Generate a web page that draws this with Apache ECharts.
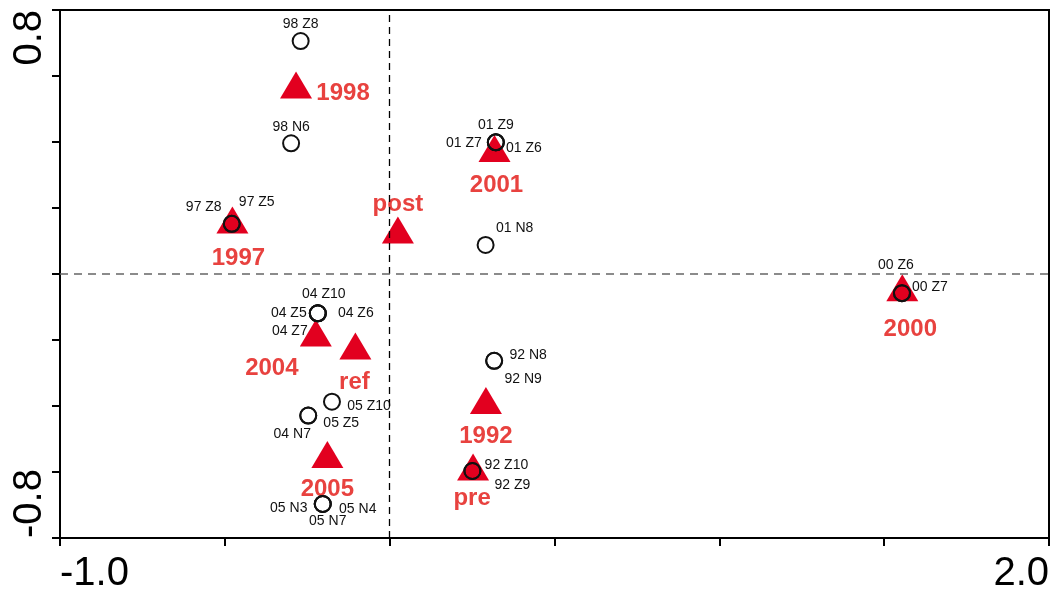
<!DOCTYPE html>
<html><head><meta charset="utf-8">
<script src="https://cdn.jsdelivr.net/npm/echarts@6/dist/echarts.min.js"></script>
<style>html,body{margin:0;padding:0;background:#fff}#c{width:1054px;height:590px}</style>
</head><body><div id="c"></div>
<script>
// ---- data ----
const yearNames = ['1998', '1997', 'post', '2001', '2000', '2004', 'ref', '1992', '2005', 'pre'];
const yearX = [-0.284, -0.477, 0.025, 0.318, 1.555, -0.224, -0.104, 0.292, -0.189, 0.253];
const yearY = [0.573, 0.164, 0.133, 0.380, -0.042, -0.179, -0.218, -0.383, -0.547, -0.585];

const sampleNames = ['98 Z8', '98 N6', '97 Z8', '97 Z5', '01 Z9', '01 Z7', '01 Z6', '01 N8',
  '00 Z6', '00 Z7', '04 Z10', '04 Z5', '04 Z6', '04 Z7', '05 Z10', '05 Z5', '04 N7',
  '05 N3', '05 N4', '05 N7', '92 N8', '92 N9', '92 Z10', '92 Z9'];
const sampleX = [-0.270, -0.299, -0.479, -0.479, 0.322, 0.322, 0.322, 0.291,
  1.554, 1.554, -0.218, -0.218, -0.218, -0.218, -0.175, -0.247, -0.247,
  -0.203, -0.203, -0.203, 0.317, 0.317, 0.251, 0.251];
const sampleY = [0.706, 0.396, 0.152, 0.152, 0.399, 0.399, 0.399, 0.088,
  -0.058, -0.058, -0.119, -0.119, -0.119, -0.119, -0.387, -0.429, -0.429,
  -0.697, -0.697, -0.697, -0.263, -0.263, -0.597, -0.597];

const xTickLabels = ['-1.0', '2.0'];
const yTickLabels = ['-0.8', '0.8'];

// ---- label placement (styling only, pixel offsets) ----
const yearLabelOffset = {
  '1998': [47, 8], '1997': [6, 38], 'post': [0, -26], '2001': [2, 37], '2000': [8, 42],
  '2004': [-44, 35], 'ref': [-1, 36], '1992': [0, 36], '2005': [0, 35], 'pre': [-1, 31]
};
const sampleLabelOffset = {
  '98 Z8': [0, -17], '98 N6': [0, -16], '97 Z8': [-28, -17], '97 Z5': [25, -22],
  '01 Z9': [0, -17], '01 Z7': [-32, 1], '01 Z6': [28, 6], '01 N8': [29, -17],
  '00 Z6': [-6, -28], '00 Z7': [28, -6], '04 Z10': [6, -19], '04 Z5': [-29, 0],
  '04 Z6': [38, 0], '04 Z7': [-28, 18], '05 Z10': [37, 4], '05 Z5': [33, 8],
  '04 N7': [-16, 19], '05 N3': [-34, 4], '05 N4': [35, 5], '05 N7': [5, 17],
  '92 N8': [34, -6], '92 N9': [29, 18], '92 Z10': [34, -6], '92 Z9': [40, 14]
};

const FONT = "'Liberation Sans', Arial, Helvetica, sans-serif";
const RED = '#e2001f';
const LABEL_RED = '#e8423f';

const yearData = yearNames.map((n, i) => ({
  name: n, value: [yearX[i], yearY[i]],
  label: { offset: yearLabelOffset[n] }
}));
const sampleData = sampleNames.map((n, i) => ({
  name: n, value: [sampleX[i], sampleY[i]],
  label: { offset: sampleLabelOffset[n] }
}));

function near(a, b) { return Math.abs(a - b) < 1e-6; }

const chart = echarts.init(document.getElementById('c'), null, { renderer: 'canvas' });
chart.setOption({
  animation: false,
  backgroundColor: '#fff',
  grid: {
    left: 60, right: 5, top: 10, bottom: 52, containLabel: false, outerBoundsMode: 'none',
    show: true, borderColor: '#000', borderWidth: 2, backgroundColor: 'transparent'
  },
  xAxis: {
    type: 'value', min: -1, max: 2, interval: 0.5,
    axisLine: { show: true, onZero: false, lineStyle: { color: '#000', width: 2 } },
    axisTick: { show: true, inside: false, length: 8, lineStyle: { color: '#000', width: 2 } },
    splitLine: { show: false },
    axisLabel: {
      color: '#000', fontSize: 40, fontFamily: FONT, margin: 16,
      showMinLabel: true, showMaxLabel: true,
      alignMinLabel: 'left', alignMaxLabel: 'right',
      formatter: v => near(v, -1) ? xTickLabels[0] : (near(v, 2) ? xTickLabels[1] : '')
    }
  },
  yAxis: {
    type: 'value', min: -0.8, max: 0.8, interval: 0.2,
    axisLine: { show: true, onZero: false, lineStyle: { color: '#000', width: 2 } },
    axisTick: { show: true, inside: false, length: 8, lineStyle: { color: '#000', width: 2 } },
    splitLine: { show: false },
    axisLabel: {
      color: '#000', fontSize: 40, fontFamily: FONT, margin: 10, rotate: 90,
      showMinLabel: true, showMaxLabel: true,
      alignMinLabel: 'left', alignMaxLabel: 'right',
      formatter: v => near(v, -0.8) ? yTickLabels[0] : (near(v, 0.8) ? yTickLabels[1] : '')
    }
  },
  series: [
    {
      type: 'scatter', name: 'years', z: 2,
      symbol: 'triangle', symbolSize: [32, 27],
      itemStyle: { color: RED, opacity: 1 },
      label: {
        show: true, position: 'inside', formatter: p => p.name,
        color: LABEL_RED, fontSize: 24, fontWeight: 'bold', fontFamily: FONT
      },
      emphasis: { disabled: true },
      data: yearData
    },
    {
      type: 'scatter', name: 'samples', z: 3,
      symbol: 'circle', symbolSize: 16,
      itemStyle: { color: 'rgba(0,0,0,0)', borderColor: '#111', borderWidth: 2, opacity: 1 },
      label: {
        show: true, position: 'inside', formatter: p => p.name,
        color: '#111', fontSize: 14, fontFamily: FONT
      },
      emphasis: { disabled: true },
      data: sampleData
    },
    {
      type: 'scatter', name: 'ref-lines', z: 4, data: [],
      markLine: {
        silent: true, symbol: 'none', label: { show: false }, animation: false,
        data: [
          { xAxis: 0, lineStyle: { color: '#000', width: 1.3, type: [7, 5] } },
          { yAxis: 0, lineStyle: { color: '#666', width: 1.5, type: [8, 6] } }
        ]
      }
    }
  ]
});
</script>
</body></html>
